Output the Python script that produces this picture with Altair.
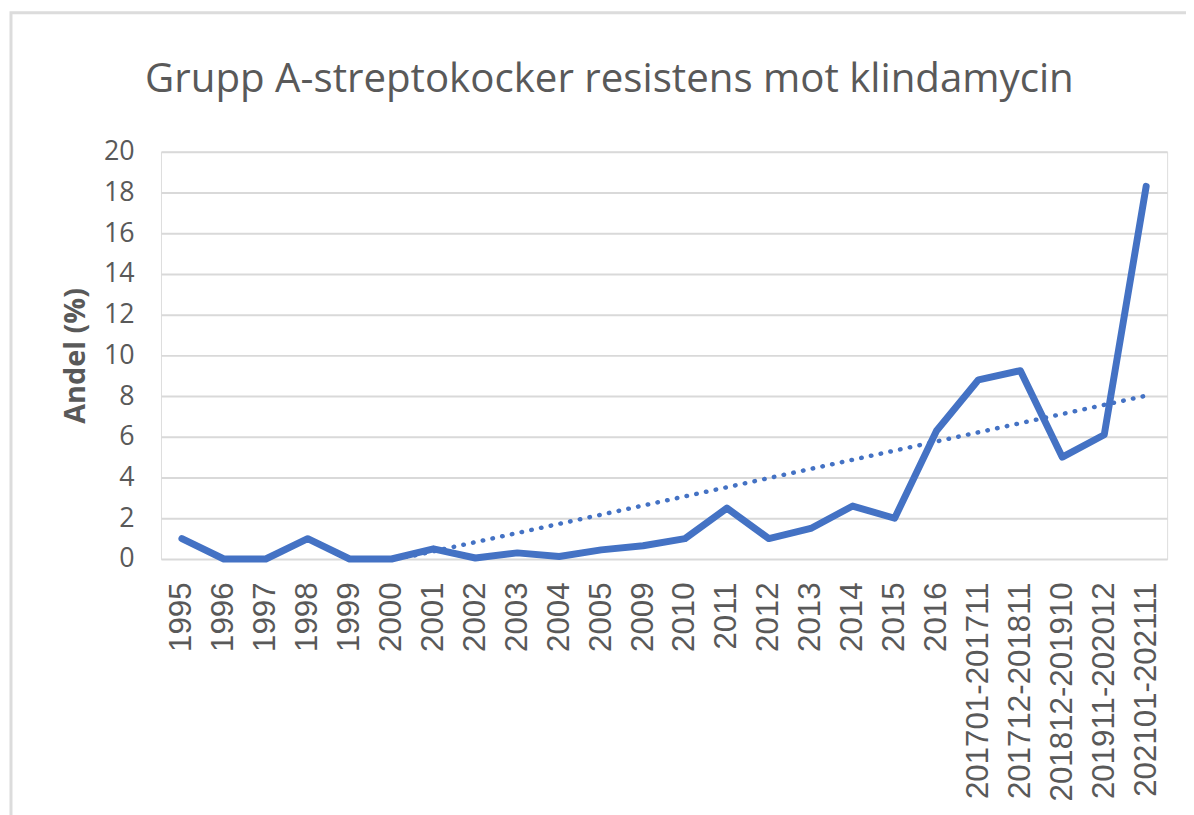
import json
import altair as alt
import pandas as pd

title_text = "Grupp A-streptokocker resistens mot klindamycin"
y_title = "Andel (%)"

categories = [
    "1995", "1996", "1997", "1998", "1999", "2000", "2001", "2002", "2003",
    "2004", "2005", "2009", "2010", "2011", "2012", "2013", "2014", "2015",
    "2016", "201701-201711", "201712-201811", "201812-201910",
    "201911-202012", "202101-202111",
]
values = [
    1.0, 0.0, 0.0, 1.0, 0.0, 0.0, 0.5, 0.05, 0.3,
    0.12, 0.45, 0.65, 1.0, 2.5, 1.0, 1.5, 2.6, 2.0,
    6.3, 8.8, 9.25, 5.0, 6.1, 18.3,
]
y_ticks = [0, 2, 4, 6, 8, 10, 12, 14, 16, 18, 20]

df = pd.DataFrame({"idx": list(range(len(categories))), "cat": categories, "value": values})

BLUE = "#4472C4"
GRAY_TXT = "#595959"
GRID = "#d9d9d9"

label_expr = json.dumps(categories) + "[round(datum.value)]"

x_enc = alt.X(
    "idx:Q",
    scale=alt.Scale(domain=[-0.5, len(categories) - 0.5], nice=False, zero=False),
    axis=alt.Axis(
        values=list(range(len(categories))),
        labelExpr=label_expr,
        labelAngle=-90,
        labelAlign="right",
        labelBaseline="middle",
        labelFont="Liberation Sans",
        labelFontSize=31.5,
        labelColor=GRAY_TXT,
        labelPadding=23,
        labelLimit=0,
        labelOverlap=False,
        labelFlush=False,
        labelBound=False,
        ticks=False,
        tickSize=0,
        domain=False,
        grid=False,
        title=None,
    ),
)

y_enc = alt.Y(
    "value:Q",
    scale=alt.Scale(domain=[0, 20], nice=False),
    axis=alt.Axis(
        values=y_ticks,
        labelFont="Open Sans",
        labelFontSize=27,
        labelColor=GRAY_TXT,
        labelPadding=27,
        ticks=False,
        tickSize=0,
        domain=False,
        grid=True,
        gridColor=GRID,
        gridWidth=2,
        title=y_title,
        titleFont="Open Sans",
        titleFontSize=29,
        titleFontWeight="bold",
        titleColor=GRAY_TXT,
        titleX=-71,
        titleY=205,
        titleAngle=-90,
        titleAlign="center",
        titleBaseline="bottom",
    ),
)

base = alt.Chart(df)

trend = base.transform_regression("idx", "value", method="linear").mark_line(
    color=BLUE, strokeWidth=4.5, strokeDash=[0.5, 9.5], strokeCap="round", clip=True
).encode(x=x_enc, y=y_enc)

line = base.mark_line(
    color=BLUE, strokeWidth=7, strokeJoin="round", strokeCap="round"
).encode(x=x_enc, y=y_enc)

frame = alt.Chart(alt.Data(values=[{"a": 1}])).mark_rect(
    filled=False, stroke="#dcdcdc", strokeWidth=3
).encode(
    x=alt.value(-151), x2=alt.value(1200), y=alt.value(-140), y2=alt.value(700)
)

chart = alt.layer(frame, trend, line).properties(
    width=1013,
    height=410,
    autosize=alt.AutoSizeParams(type="none"),
    padding={"left": 154, "top": 142, "right": 19, "bottom": 255},
    title=alt.TitleParams(
        text=title_text,
        font="Open Sans",
        fontSize=40.5,
        fontWeight="normal",
        color=GRAY_TXT,
        anchor="middle",
        frame="group",
        baseline="alphabetic",
        dx=-55,
        dy=122,
        offset=0,
    ),
).configure_view(stroke=None).configure(background="white")

chart.save("out.html", embed_options={"renderer": "svg", "actions": False})
